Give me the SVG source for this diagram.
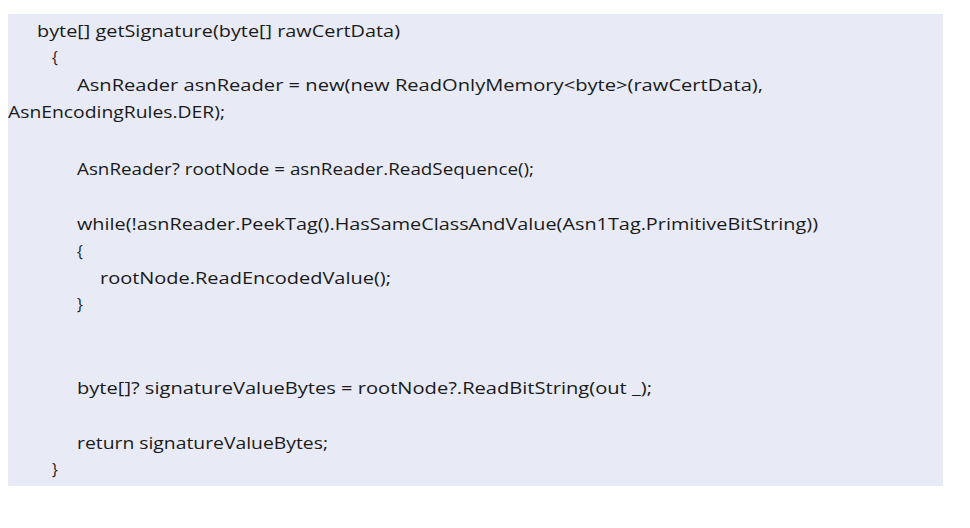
<svg xmlns="http://www.w3.org/2000/svg" width="970" height="528" viewBox="0 0 970 528">
<style>
text{font-family:"Open Sans","Noto Sans","Liberation Sans",sans-serif;font-size:15.5px;fill:#1a1a1a}
</style>
<rect width="970" height="528" fill="#ffffff"/>
<rect x="8" y="14" width="935" height="472" fill="#e8eaf6"/>
<text x="37" y="37" textLength="363" lengthAdjust="spacingAndGlyphs">byte[] getSignature(byte[] rawCertData)</text>
<text x="52" y="63">{</text>
<text x="77" y="91" textLength="686" lengthAdjust="spacingAndGlyphs">AsnReader asnReader = new(new ReadOnlyMemory&lt;byte&gt;(rawCertData),</text>
<text x="8" y="118" textLength="217" lengthAdjust="spacingAndGlyphs">AsnEncodingRules.DER);</text>
<text x="77" y="175" textLength="457" lengthAdjust="spacingAndGlyphs">AsnReader? rootNode = asnReader.ReadSequence();</text>
<text x="77" y="230" textLength="741" lengthAdjust="spacingAndGlyphs">while(!asnReader.PeekTag().HasSameClassAndValue(Asn1Tag.PrimitiveBitString))</text>
<text x="77" y="257">{</text>
<text x="100" y="284" textLength="291" lengthAdjust="spacingAndGlyphs">rootNode.ReadEncodedValue();</text>
<text x="77" y="310">}</text>
<text x="77" y="394" textLength="575" lengthAdjust="spacingAndGlyphs">byte[]? signatureValueBytes = rootNode?.ReadBitString(out _);</text>
<text x="77" y="449" textLength="251" lengthAdjust="spacingAndGlyphs">return signatureValueBytes;</text>
<text x="52" y="475">}</text>
</svg>
